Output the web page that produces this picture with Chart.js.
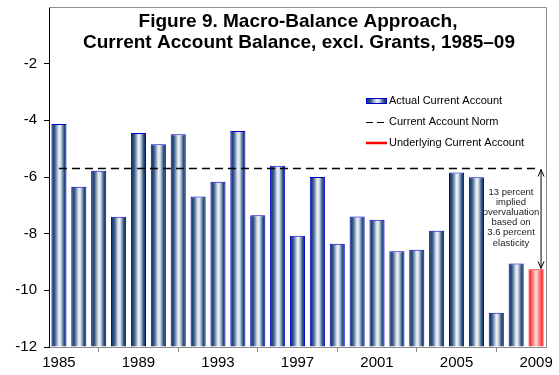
<!DOCTYPE html>
<html>
<head>
<meta charset="utf-8">
<script src="https://cdn.jsdelivr.net/npm/chart.js@4"></script>
<style>
  html, body { margin: 0; padding: 0; background: #fff; }
  #wrap { width: 559px; height: 375px; }
</style>
</head>
<body>
<div id="wrap"><canvas id="caChart" width="559" height="375"></canvas></div>
<script>
// Data
const years = ["1985","1986","1987","1988","1989","1990","1991","1992","1993","1994","1995","1996","1997",
  "1998","1999","2000","2001","2002","2003","2004","2005","2006","2007","2008","2009"];
const actualBalance = [-4.13, -6.34, -5.78, -7.40, -4.45, -4.84, -4.49, -6.69, -6.17, -4.38, -7.35, -5.60, -8.07,
  -6.00, -8.36, -7.39, -7.51, -8.62, -8.57, -7.90, -5.84, -6.01, -10.79, -9.05, -9.26];
const underlyingIndex = 24; // 2009 bar is the underlying current account
const normValue = -5.7;
const normLine = years.map(() => normValue);
const yTicks = [-12, -10, -8, -6, -4, -2, 0];

const titleLines = ["Figure 9. Macro-Balance Approach,", "Current Account Balance, excl. Grants, 1985\u201309"];
const legendLabels = ["Actual Current Account", "Current Account Norm", "Underlying Current Account"];
const noteLines = ["13 percent", "implied", "overvaluation", "based on", "3.6 percent", "elasticity"];

const FONT = "'Liberation Sans', Arial, sans-serif";
const BAR_PCT = 0.76;

function barGradient(ctx, x0, x1, red) {
  const g = ctx.createLinearGradient(x0, 0, x1, 0);
  if (red) {
    g.addColorStop(0, "#ff0000");
    g.addColorStop(0.5, "#ffe0e0");
    g.addColorStop(1, "#ff0000");
  } else {
    g.addColorStop(0, "#082657");
    g.addColorStop(0.22, "#355a8a");
    g.addColorStop(0.5, "#eef2f7");
    g.addColorStop(0.62, "#d5dfea");
    g.addColorStop(0.85, "#2a507f");
    g.addColorStop(1, "#082657");
  }
  return g;
}

// Title, legend, border and the annotation arrow
const decorations = {
  id: "decorations",
  afterDraw(chart) {
    const ctx = chart.ctx;
    const a = chart.chartArea;
    const x = chart.scales.x, y = chart.scales.y;
    ctx.save();

    // frame (top and right)
    ctx.strokeStyle = "#8c8c8c";
    ctx.lineWidth = 1;
    ctx.beginPath();
    ctx.moveTo(a.left, a.top + 0.5);
    ctx.lineTo(a.right + 0.5, a.top + 0.5);
    ctx.lineTo(a.right + 0.5, a.bottom);
    ctx.stroke();

    // title
    ctx.fillStyle = "#000";
    ctx.textAlign = "center";
    ctx.textBaseline = "middle";
    ctx.font = "bold 19px " + FONT;
    ctx.fillText(titleLines[0], 298, 22);
    ctx.fillText(titleLines[1], 299, 43);

    // legend
    const lx = 366, sw = 21, rows = [101, 122, 143];
    ctx.font = "11px " + FONT;
    ctx.textAlign = "left";
    ctx.fillStyle = barGradient(ctx, lx, lx + sw, false);
    ctx.fillRect(lx, rows[0] - 3, sw, 6);
    ctx.strokeStyle = "#0000cc";
    ctx.strokeRect(lx + 0.5, rows[0] - 2.5, sw - 1, 5);
    ctx.strokeStyle = "#000";
    ctx.lineWidth = 1.2;
    ctx.setLineDash([7, 4]);
    ctx.beginPath();
    ctx.moveTo(lx, rows[1] + 0.5);
    ctx.lineTo(lx + sw + 1, rows[1] + 0.5);
    ctx.stroke();
    ctx.setLineDash([]);
    ctx.strokeStyle = "#ff0000";
    ctx.lineWidth = 2.5;
    ctx.beginPath();
    ctx.moveTo(lx, rows[2]);
    ctx.lineTo(lx + sw, rows[2]);
    ctx.stroke();
    ctx.fillStyle = "#000";
    legendLabels.forEach((t, i) => ctx.fillText(t, lx + sw + 2, rows[i]));

    // arrow between norm and underlying balance
    const ax = x.getPixelForValue(underlyingIndex) + 5;
    const yTop = y.getPixelForValue(normValue) + 1;
    const yBot = y.getPixelForValue(actualBalance[underlyingIndex]) - 1;
    ctx.strokeStyle = "#000";
    ctx.lineWidth = 1;
    ctx.beginPath();
    ctx.moveTo(ax, yTop);
    ctx.lineTo(ax, yBot);
    ctx.moveTo(ax - 3, yTop + 7);
    ctx.lineTo(ax, yTop);
    ctx.lineTo(ax + 3, yTop + 7);
    ctx.moveTo(ax - 3, yBot - 7);
    ctx.lineTo(ax, yBot);
    ctx.lineTo(ax + 3, yBot - 7);
    ctx.stroke();

    // note text
    ctx.font = "9.5px " + FONT;
    ctx.textAlign = "center";
    ctx.fillStyle = "#222";
    noteLines.forEach((t, i) => ctx.fillText(t, 511, 192 + i * 10.2));
    ctx.restore();
  }
};

const chart = new Chart(document.getElementById("caChart"), {
  type: "bar",
  data: {
    labels: years,
    datasets: [
      {
        type: "line",
        label: legendLabels[1],
        data: normLine,
        borderColor: "#000",
        borderWidth: 1.3,
        borderDash: [8, 5],
        pointRadius: 0,
        fill: false,
        order: 0
      },
      {
        label: legendLabels[0],
        data: actualBalance,
        base: -12,
        barPercentage: BAR_PCT,
        categoryPercentage: 1,
        borderWidth: { top: 1, left: 1, right: 1, bottom: 0 },
        borderSkipped: false,
        borderColor: (c) => c.dataIndex === underlyingIndex ? "#ff0000" : "#0000cc",
        backgroundColor: (c) => {
          const red = c.dataIndex === underlyingIndex;
          const sx = c.chart.scales.x;
          if (!sx || c.dataIndex === undefined) return red ? "#ff0000" : "#1f4e8c";
          const cx = sx.getPixelForValue(c.dataIndex);
          const w = (sx.width / years.length) * BAR_PCT;
          if (!isFinite(cx) || !isFinite(w) || w <= 0) return red ? "#ff0000" : "#1f4e8c";
          return barGradient(c.chart.ctx, cx - w / 2, cx + w / 2, red);
        },
        order: 1
      }
    ]
  },
  options: {
    responsive: false,
    animation: false,
    layout: { padding: { top: 7, right: 13, left: 0, bottom: 0 } },
    plugins: {
      legend: { display: false },
      title: { display: false },
      tooltip: { enabled: false }
    },
    scales: {
      x: {
        offset: true,
        grid: { display: true, offset: true, drawOnChartArea: false, tickLength: 5, color: "#8c8c8c" },
        border: { display: true, color: "#8c8c8c", width: 1 },
        ticks: {
          autoSkip: false,
          maxRotation: 0,
          padding: 2,
          color: "#000",
          font: { family: FONT, size: 15 },
          callback: function (v, i) { return i % 4 === 0 ? years[i] : null; }
        },
        afterFit: (s) => { s.height = 28; s.paddingLeft = 0; s.paddingRight = 0; }
      },
      y: {
        min: yTicks[0],
        max: yTicks[yTicks.length - 1],
        afterBuildTicks: (s) => { s.ticks = yTicks.map(v => ({ value: v })); },
        grid: { display: true, drawOnChartArea: false, tickLength: 5, color: "#000" },
        border: { display: true, color: "#000", width: 1 },
        ticks: {
          padding: 7,
          color: "#000",
          font: { family: FONT, size: 15 },
          callback: (v) => v === 0 ? null : v
        },
        afterFit: (s) => { s.width = 49; s.paddingTop = 0; s.paddingBottom = 0; }
      }
    }
  },
  plugins: [decorations]
});
</script>
</body>
</html>
